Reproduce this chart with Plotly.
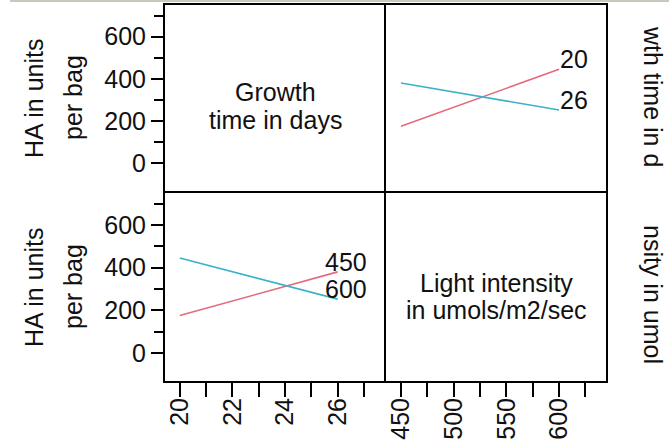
import plotly.graph_objects as go

# Data (cell means)
growth_days = [20, 26]
light_levels = [450, 600]
ha_growth20 = [175, 445]   # HA at light 450, 600 for growth 20
ha_growth26 = [380, 252]   # HA at light 450, 600 for growth 26
ha_light450 = [ha_growth20[0], ha_growth26[0]]  # HA at growth 20, 26 for light 450
ha_light600 = [ha_growth20[1], ha_growth26[1]]  # HA at growth 20, 26 for light 600

y_ticks = [0, 200, 400, 600]
y_minor = [100, 300, 500, 700]
growth_ticks = [20, 22, 24, 26]
growth_minor = [21, 23, 25, 27]
light_ticks = [450, 500, 550, 600]
light_minor = [475, 525, 575, 625]

RED = "#E46A79"
CYAN = "#3AB2CA"
FONT = "Liberation Sans, Arial, sans-serif"
FS = 25

W, H = 669, 446
def px(x):
    return x / W
def py(y):
    return 1 - y / H

XL = [px(164), px(385)]
XR = [px(385), px(607)]
YT = [py(192), py(4)]
YB = [py(382), py(192)]

YRANGE = [-137, 755]
GRANGE = [19.4, 27.8]
LRANGE = [434.8, 645.5]

fig = go.Figure()

# empty traces so the diagonal subplots get drawn
fig.add_trace(go.Scatter(x=[None], y=[None], mode="lines", xaxis="x", yaxis="y",
                         showlegend=False, hoverinfo="skip"))
fig.add_trace(go.Scatter(x=[None], y=[None], mode="lines", xaxis="x4", yaxis="y4",
                         showlegend=False, hoverinfo="skip"))

# top-right: x = light, lines by growth time
fig.add_trace(go.Scatter(x=light_levels, y=ha_growth20, mode="lines", line=dict(color=RED, width=1.6),
                         xaxis="x2", yaxis="y2", showlegend=False))
fig.add_trace(go.Scatter(x=light_levels, y=ha_growth26, mode="lines", line=dict(color=CYAN, width=1.6),
                         xaxis="x2", yaxis="y2", showlegend=False))
# bottom-left: x = growth, lines by light
fig.add_trace(go.Scatter(x=growth_days, y=ha_light450, mode="lines", line=dict(color=RED, width=1.6),
                         xaxis="x3", yaxis="y3", showlegend=False))
fig.add_trace(go.Scatter(x=growth_days, y=ha_light600, mode="lines", line=dict(color=CYAN, width=1.6),
                         xaxis="x3", yaxis="y3", showlegend=False))

tickfont = dict(family=FONT, size=FS, color="#111")
hidden = dict(showticklabels=False, ticks="", showgrid=False, zeroline=False, showline=False)
yax_vis = dict(range=YRANGE, tickvals=y_ticks, ticks="outside", ticklen=12, tickwidth=2, tickcolor="black",
               minor=dict(tickvals=y_minor, ticks="outside", ticklen=9, tickwidth=2, tickcolor="black"),
               showgrid=False, zeroline=False, showline=False, tickfont=tickfont)
xtick_common = dict(tickangle=-90, ticks="outside", ticklen=14, tickwidth=2, tickcolor="black",
                    ticklabelstandoff=-9, showgrid=False, zeroline=False, showline=False, tickfont=tickfont)

fig.update_layout(
    width=W, height=H, margin=dict(l=0, r=0, t=0, b=0),
    paper_bgcolor="white", plot_bgcolor="white",
    xaxis=dict(domain=XL, range=GRANGE, anchor="y", **hidden),
    yaxis=dict(domain=YT, anchor="x", **yax_vis),
    xaxis2=dict(domain=XR, range=LRANGE, anchor="y2", **hidden),
    yaxis2=dict(domain=YT, range=YRANGE, anchor="x2", **hidden),
    xaxis3=dict(domain=XL, range=GRANGE, anchor="y3", tickvals=growth_ticks,
                minor=dict(tickvals=growth_minor, ticks="outside", ticklen=14, tickwidth=2, tickcolor="black"),
                **xtick_common),
    yaxis3=dict(domain=YB, anchor="x3", **yax_vis),
    xaxis4=dict(domain=XR, range=LRANGE, anchor="y4", tickvals=light_ticks,
                minor=dict(tickvals=light_minor, ticks="outside", ticklen=14, tickwidth=2, tickcolor="black"),
                **xtick_common),
    yaxis4=dict(domain=YB, range=YRANGE, anchor="x4", **hidden),
)

shapes = []
lw = dict(color="black", width=2)
shapes.append(dict(type="rect", xref="paper", yref="paper", x0=XL[0], x1=XR[1], y0=YB[0], y1=YT[1], line=lw))
shapes.append(dict(type="line", xref="paper", yref="paper", x0=XL[0], x1=XR[1], y0=YT[0], y1=YT[0], line=lw))
shapes.append(dict(type="line", xref="paper", yref="paper", x0=XL[1], x1=XL[1], y0=YB[0], y1=YT[1], line=lw))
# window frame line at the very top
shapes.append(dict(type="line", xref="paper", yref="paper", x0=px(10), x1=1, y0=py(1), y1=py(1),
                   line=dict(color="#c9c9c0", width=2)))
fig.update_layout(shapes=shapes)

af = dict(family=FONT, size=FS, color="#111")
ann = []
def text(x, y, s, angle=0, **kw):
    ann.append(dict(x=x, y=y, xref="paper", yref="paper", text=s, showarrow=False, font=af,
                    textangle=angle, xanchor="center", yanchor="middle", **kw))

# diagonal labels
text(px(275), py(92), "Growth")
text(px(275), py(120), "time in days")
text(px(496), py(283), "Light intensity")
text(px(496), py(310), "in umols/m2/sec")
# y titles
for yc in (98, 287):
    text(px(34), py(yc), "HA in units", angle=-90)
    text(px(73), py(yc), "per bag", angle=-90)
# clipped right-side labels
text(px(653), py(96), "wth time in d", angle=90)
text(px(653), py(294), "nsity in umol", angle=90)

# line end labels
def endlabel(x, y, s, xr, yr):
    ann.append(dict(x=x, y=y, xref=xr, yref=yr, text=s, showarrow=False, font=af,
                    xanchor="right", yanchor="middle", xshift=31, yshift=10))
endlabel(light_levels[-1], ha_growth20[-1], str(growth_days[0]), "x2", "y2")
endlabel(light_levels[-1], ha_growth26[-1], str(growth_days[1]), "x2", "y2")
endlabel(growth_days[-1], ha_light450[-1], str(light_levels[0]), "x3", "y3")
endlabel(growth_days[-1], ha_light600[-1], str(light_levels[1]), "x3", "y3")

fig.update_layout(annotations=ann)
fig.write_html("out.html")
